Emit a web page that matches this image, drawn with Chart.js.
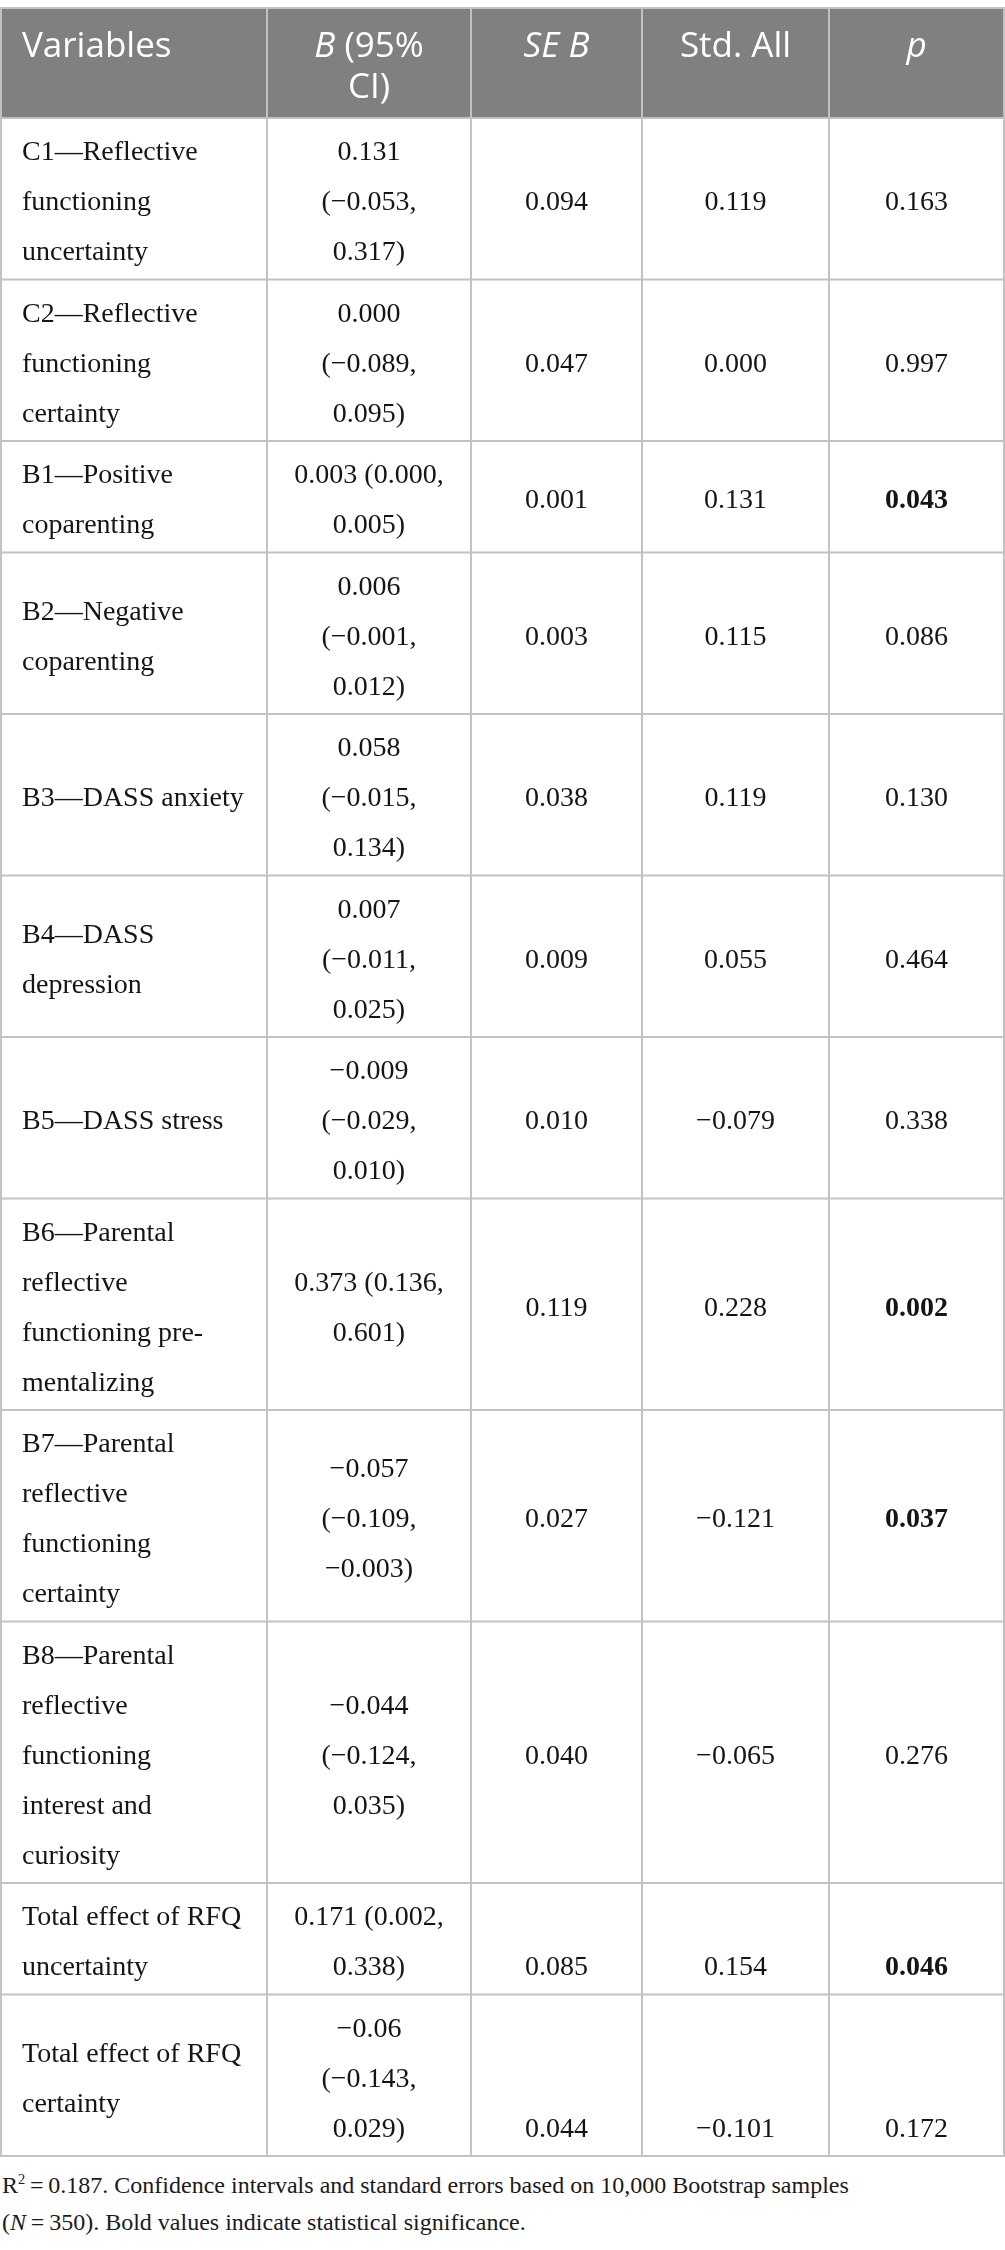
<!DOCTYPE html>
<html>
<head>
<meta charset="utf-8">
<title>Regression table</title>
<script src="https://cdn.jsdelivr.net/npm/chart.js@4.4.1/dist/chart.umd.min.js"></script>
<style>
  html, body { margin: 0; padding: 0; background: #fff; }
  #wrap { width: 1005px; height: 2160px; }
  .note {
    font-family: "Liberation Serif", "Times New Roman", serif;
    font-size: 24px;
    line-height: 37px;
    color: #1a1a1a;
    margin: 7px 0 0 2px;
    white-space: nowrap;
  }
  .note sup { font-size: 0.6em; line-height: 0; vertical-align: 0.6em; }
</style>
</head>
<body>
<div id="wrap"><canvas id="table" width="1005" height="2160"></canvas></div>
<p class="note">R<sup>2</sup>&#8201;=&#8201;0.187. Confidence intervals and standard errors based on 10,000 Bootstrap samples<br>(<i>N</i>&#8201;=&#8201;350). Bold values indicate statistical significance.</p>

<script>
// === data ===
// _text_ = italic
const headers = ["Variables", "_B_ (95%\nCI)", "_SE B_", "Std. All", "_p_"];

const variables = [
  "C1—Reflective\nfunctioning\nuncertainty",
  "C2—Reflective\nfunctioning\ncertainty",
  "B1—Positive\ncoparenting",
  "B2—Negative\ncoparenting",
  "B3—DASS anxiety",
  "B4—DASS\ndepression",
  "B5—DASS stress",
  "B6—Parental\nreflective\nfunctioning pre-\nmentalizing",
  "B7—Parental\nreflective\nfunctioning\ncertainty",
  "B8—Parental\nreflective\nfunctioning\ninterest and\ncuriosity",
  "Total effect of RFQ\nuncertainty",
  "Total effect of RFQ\ncertainty"
];

const bCI = [
  "0.131\n(−0.053,\n0.317)",
  "0.000\n(−0.089,\n0.095)",
  "0.003 (0.000,\n0.005)",
  "0.006\n(−0.001,\n0.012)",
  "0.058\n(−0.015,\n0.134)",
  "0.007\n(−0.011,\n0.025)",
  "−0.009\n(−0.029,\n0.010)",
  "0.373 (0.136,\n0.601)",
  "−0.057\n(−0.109,\n−0.003)",
  "−0.044\n(−0.124,\n0.035)",
  "0.171 (0.002,\n0.338)",
  "−0.06\n(−0.143,\n0.029)"
];

const seB = ["0.094", "0.047", "0.001", "0.003", "0.038", "0.009", "0.010", "0.119", "0.027", "0.040", "0.085", "0.044"];
const stdAll = ["0.119", "0.000", "0.131", "0.115", "0.119", "0.055", "−0.079", "0.228", "−0.121", "−0.065", "0.154", "−0.101"];
const pValues = ["0.163", "0.997", "0.043", "0.086", "0.130", "0.464", "0.338", "0.002", "0.037", "0.276", "0.046", "0.172"];
const significant = [false, false, true, false, false, false, false, true, true, false, true, false];

// === layout ===
const colEdges = [1, 267, 471, 642, 829, 1004];
const tableTop = 8;
const headerH = 110;
const headerLineH = 41;
const lineH = 50;
const rowPad = 11.5;
const statVAlign = ["middle", "middle", "middle", "middle", "middle", "middle",
                    "middle", "middle", "middle", "middle", "bottom", "bottom"];

const HEAD_FONT = '"Open Sans", "Noto Sans", sans-serif';
const BODY_FONT = '"Liberation Serif", "Times New Roman", serif';

function parseRuns(line) {
  return line.split("_").map((t, i) => ({ text: t, italic: i % 2 === 1 })).filter(r => r.text);
}

function drawRuns(ctx, line, x, baseline, align, size, family, bold) {
  const runs = parseRuns(line);
  const fontOf = r => `${r.italic ? "italic " : ""}${bold ? "bold " : ""}${size}px ${family}`;
  let total = 0;
  runs.forEach(r => { ctx.font = fontOf(r); total += ctx.measureText(r.text).width; });
  let cx = align === "center" ? x - total / 2 : x;
  ctx.textAlign = "left";
  ctx.textBaseline = "alphabetic";
  runs.forEach(r => {
    ctx.font = fontOf(r);
    ctx.fillText(r.text, cx, baseline);
    cx += ctx.measureText(r.text).width;
  });
}

const tablePlugin = {
  id: "tableCells",
  afterDraw(chart) {
    const ctx = chart.ctx;
    const sx = chart.scales.x, sy = chart.scales.y;
    const px = v => sx.getPixelForValue(v);
    const py = v => sy.getPixelForValue(v);

    // row geometry in scale units
    const rows = variables.map((v, i) => [v, bCI[i], seB[i], stdAll[i], pValues[i]]);
    const tops = [];
    let t = tableTop + headerH;
    const counts = rows.map(r => Math.max(...r.map(c => c.split("\n").length)));
    counts.forEach(n => { tops.push(t); t += rowPad + n * lineH; });
    const tableBottom = t;

    ctx.save();

    // header background
    ctx.fillStyle = "#7f807f";
    ctx.fillRect(px(colEdges[0]), py(tableTop), px(colEdges[5]) - px(colEdges[0]), py(tableTop + headerH) - py(tableTop));

    // header text
    ctx.fillStyle = "#ffffff";
    headers.forEach((h, c) => {
      const lines = h.split("\n");
      const left = c === 0;
      const x = left ? colEdges[0] + 21 : (colEdges[c] + colEdges[c + 1]) / 2;
      lines.forEach((ln, k) => {
        drawRuns(ctx, ln, px(x), py(tableTop + 49 + k * headerLineH), left ? "left" : "center", 35, HEAD_FONT, false);
      });
    });

    // body text
    ctx.fillStyle = "#151515";
    rows.forEach((r, i) => {
      const n = counts[i];
      r.forEach((cell, c) => {
        const lines = cell.split("\n");
        const k = lines.length;
        const valign = c >= 2 ? statVAlign[i] : "middle";
        const shift = valign === "bottom" ? (n - k) * lineH : (n - k) * lineH / 2;
        const left = c === 0;
        const x = left ? colEdges[0] + 21 : (colEdges[c] + colEdges[c + 1]) / 2;
        const bold = c === 4 && significant[i];
        lines.forEach((ln, j) => {
          drawRuns(ctx, ln, px(x), py(tops[i] + 8 + shift + j * lineH + 34), left ? "left" : "center", 28, BODY_FONT, bold);
        });
      });
    });

    // grid lines
    ctx.strokeStyle = "#c2c2c2";
    ctx.lineWidth = 2;
    ctx.beginPath();
    [tableTop, tableTop + headerH, ...tops.slice(1), tableBottom].forEach(yv => {
      ctx.moveTo(px(colEdges[0]) - 1, py(yv));
      ctx.lineTo(px(colEdges[5]) + 1, py(yv));
    });
    colEdges.forEach(xv => {
      ctx.moveTo(px(xv), py(tableTop));
      ctx.lineTo(px(xv), py(tableBottom));
    });
    ctx.stroke();

    ctx.restore();
  }
};

new Chart(document.getElementById("table"), {
  type: "scatter",
  data: { datasets: [] },
  options: {
    responsive: false,
    animation: false,
    events: [],
    layout: { padding: 0 },
    plugins: { legend: { display: false }, tooltip: { enabled: false } },
    scales: {
      x: { type: "linear", min: 0, max: 1005, display: false },
      y: { type: "linear", min: 0, max: 2160, reverse: true, display: false }
    }
  },
  plugins: [tablePlugin]
});
</script>
</body>
</html>
